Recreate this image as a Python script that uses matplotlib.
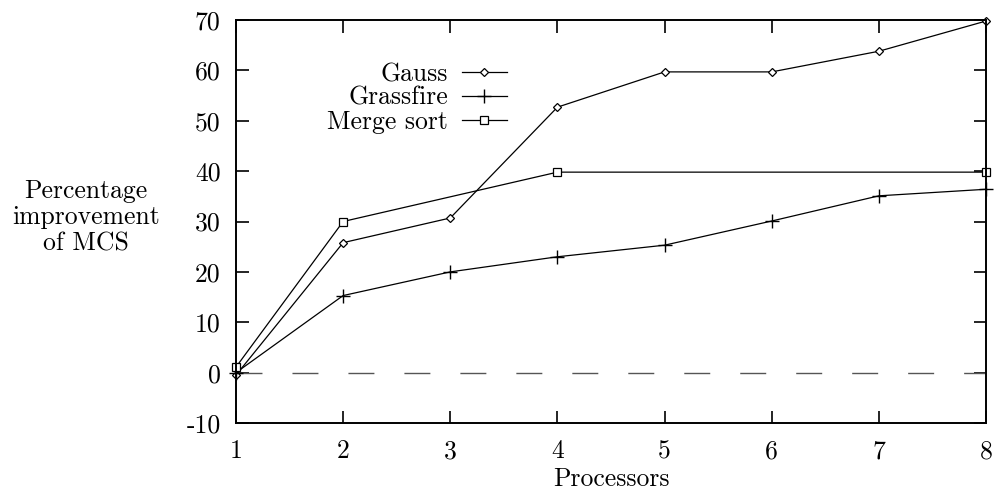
import numpy as np
import matplotlib.pyplot as plt

plt.rcParams['font.family'] = ['cmr10', 'DejaVu Serif']
plt.rcParams['axes.unicode_minus'] = False
plt.rcParams['mathtext.fontset'] = 'cm'

# data
procs = [1, 2, 3, 4, 5, 6, 7, 8]
gauss = [-0.5, 25.8, 30.7, 52.7, 59.7, 59.7, 63.8, 69.8]
grassfire = [0.0, 15.3, 20.0, 23.0, 25.3, 30.1, 35.1, 36.4]
merge_procs = [1, 2, 4, 8]
merge_sort = [1.1, 30.0, 39.8, 39.8]

yticks = [-10, 0, 10, 20, 30, 40, 50, 60, 70]

fs = 18.5

fig = plt.figure(figsize=(9.94, 4.94), dpi=100)
ax = fig.add_axes([0.2374, 0.1437, 0.7546, 0.8158])

# dashed zero line
ax.axhline(0, color='#555555', lw=1.0, dashes=(18.7, 21.6))

ax.plot(procs, gauss, color='black', lw=0.9, marker='D', ms=4.5,
        mfc='white', mec='black', mew=0.9, label='Gauss', clip_on=False)
ax.plot(procs, grassfire, color='black', lw=0.9, marker='+', ms=9.5,
        mew=1.0, label='Grassfire', clip_on=False)
ax.plot(merge_procs, merge_sort, color='black', lw=0.9, marker='s', ms=6,
        mfc='white', mec='black', mew=0.9, label='Merge sort', clip_on=False)

ax.set_xlim(1, 8)
ax.set_ylim(-10, 70)
ax.set_xticks(procs)
ax.set_yticks(yticks)
ax.set_yticklabels([str(v) for v in yticks])
ax.tick_params(direction='in', length=9, width=1.2, labelsize=fs,
               top=True, right=True)
ax.tick_params(axis='x', pad=12)
ax.tick_params(axis='y', pad=11)
for s in ax.spines.values():
    s.set_linewidth(1.4)

ax.set_xlabel('Processors', fontsize=fs, labelpad=3)
ax.set_ylabel('Percentage\nimprovement\nof MCS', fontsize=fs, rotation=0,
              ha='center', va='center', linespacing=1.15)
ax.yaxis.set_label_coords(-0.2, 0.51)

ax.legend(loc='upper right', bbox_to_anchor=(0.375, 0.92), frameon=False,
          markerfirst=False, fontsize=fs, handlelength=1.75, handletextpad=0.55,
          labelspacing=0.0, borderaxespad=0)

fig.savefig('out.png', dpi=100)
plt.close(fig)
